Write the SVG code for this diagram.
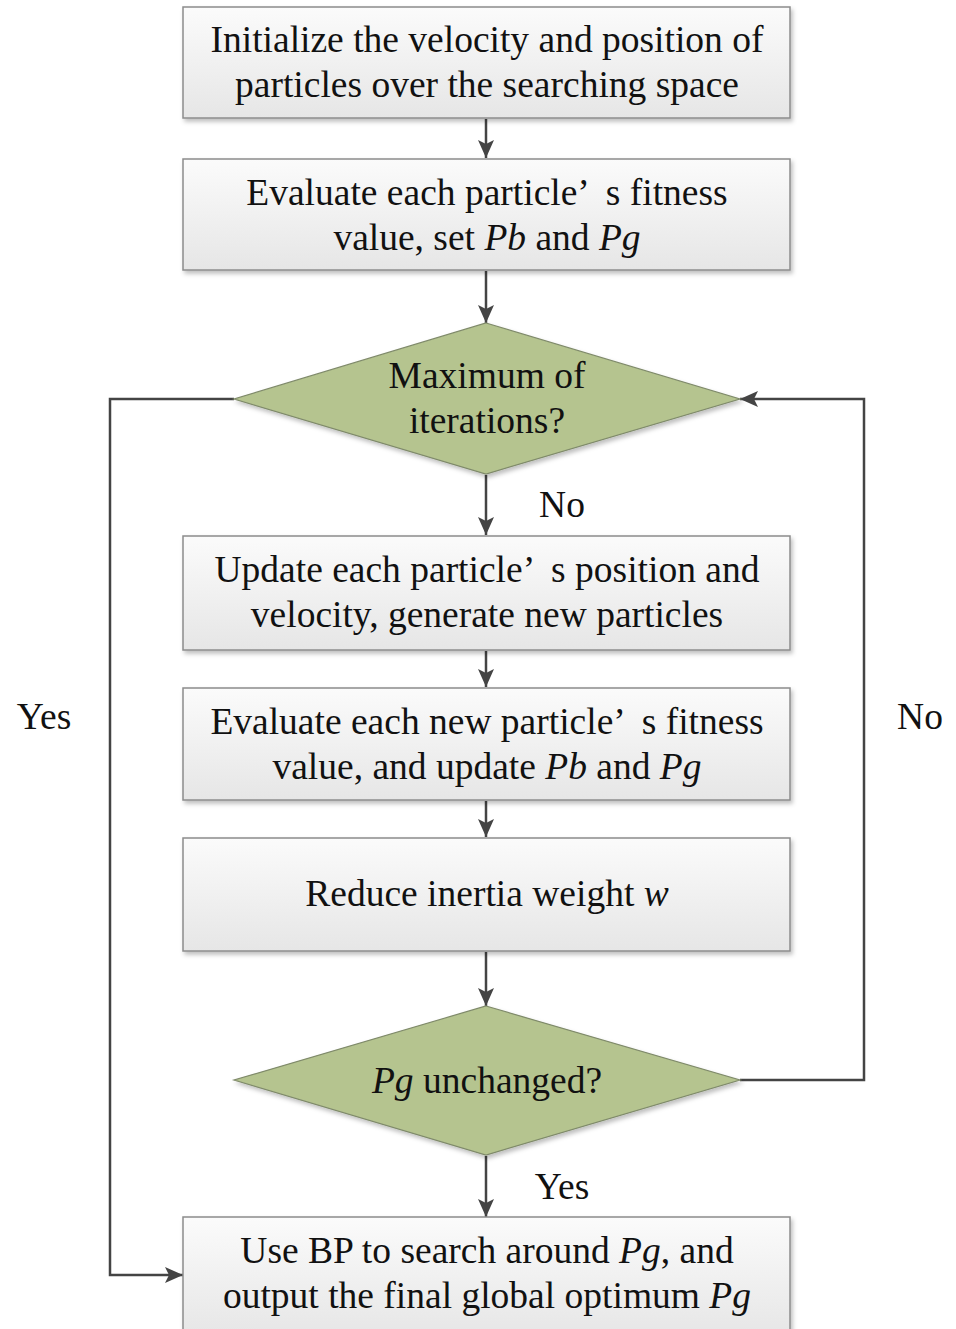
<svg xmlns="http://www.w3.org/2000/svg" width="956" height="1329" viewBox="0 0 956 1329">
<style>
.box{fill:url(#g);stroke:#8c8c8c;stroke-width:1.5}
.dia{fill:#b5c48f;stroke:#7f8a6a;stroke-width:1.2}
text{font-family:"Liberation Serif","Times New Roman",serif;font-size:37.5px;fill:#111;text-anchor:middle}
.i{font-style:italic}
.ln{fill:none;stroke:#444;stroke-width:2.5}
</style>
<defs>
<linearGradient id="g" x1="0" y1="0" x2="0" y2="1"><stop offset="0" stop-color="#fbfbfb"/><stop offset="1" stop-color="#e6e6e6"/></linearGradient>
<filter id="sh" x="-5%" y="-5%" width="110%" height="120%"><feDropShadow dx="2" dy="3" stdDeviation="2" flood-color="#000" flood-opacity="0.25"/></filter>
<marker id="a" markerWidth="18" markerHeight="16" refX="18" refY="8" orient="auto" markerUnits="userSpaceOnUse" viewBox="0 0 18 16"><path d="M0,0 L18,8 L0,16 L4,8 Z" fill="#444"/></marker>
</defs>
<rect width="956" height="1329" fill="#fff"/>
<g id="connectors">
<line class="ln" x1="486" y1="119" x2="486" y2="158" marker-end="url(#a)"/>
<line class="ln" x1="486" y1="271" x2="486" y2="323" marker-end="url(#a)"/>
<line class="ln" x1="486" y1="475" x2="486" y2="535" marker-end="url(#a)"/>
<line class="ln" x1="486" y1="651" x2="486" y2="687" marker-end="url(#a)"/>
<line class="ln" x1="486" y1="801" x2="486" y2="837" marker-end="url(#a)"/>
<line class="ln" x1="486" y1="952" x2="486" y2="1006" marker-end="url(#a)"/>
<line class="ln" x1="486" y1="1156" x2="486" y2="1217" marker-end="url(#a)"/>
<polyline class="ln" points="234,399 110,399 110,1275 183,1275" marker-end="url(#a)"/>
<polyline class="ln" points="740,1080 864,1080 864,399 740,399" marker-end="url(#a)"/>
<text x="562" y="517">No</text>
<text x="562" y="1199">Yes</text>
<text x="44" y="729">Yes</text>
<text x="920" y="729">No</text>
</g>
<g id="n1"><rect class="box" filter="url(#sh)" x="183" y="7" width="607" height="111"/>
<text x="487" y="52">Initialize the velocity and position of</text>
<text x="487" y="97">particles over the searching space</text></g>
<g id="n2"><rect class="box" filter="url(#sh)" x="183" y="159" width="607" height="111"/>
<text x="487" y="205" xml:space="preserve">Evaluate each particle’  s fitness</text>
<text x="487" y="250">value, set <tspan class="i">Pb</tspan> and <tspan class="i">Pg</tspan></text></g>
<g id="d1"><polygon class="dia" filter="url(#sh)" points="486,323 740,399 486,474 234,399"/>
<text x="487" y="388">Maximum of</text>
<text x="487" y="433">iterations?</text></g>
<g id="n3"><rect class="box" filter="url(#sh)" x="183" y="536" width="607" height="114"/>
<text x="487" y="582" xml:space="preserve">Update each particle’  s position and</text>
<text x="487" y="627">velocity, generate new particles</text></g>
<g id="n4"><rect class="box" filter="url(#sh)" x="183" y="688" width="607" height="112"/>
<text x="487" y="734" xml:space="preserve">Evaluate each new particle’  s fitness</text>
<text x="487" y="779">value, and update <tspan class="i">Pb</tspan> and <tspan class="i">Pg</tspan></text></g>
<g id="n5"><rect class="box" filter="url(#sh)" x="183" y="838" width="607" height="113"/>
<text x="487" y="906">Reduce inertia weight <tspan class="i">w</tspan></text></g>
<g id="d2"><polygon class="dia" filter="url(#sh)" points="486,1006 740,1080 486,1155 234,1080"/>
<text x="487" y="1093"><tspan class="i">Pg</tspan> unchanged?</text></g>
<g id="n6"><rect class="box" filter="url(#sh)" x="183" y="1217" width="607" height="120"/>
<text x="487" y="1263">Use BP to search around <tspan class="i">Pg</tspan>, and</text>
<text x="487" y="1308">output the final global optimum <tspan class="i">Pg</tspan></text></g>
</svg>
